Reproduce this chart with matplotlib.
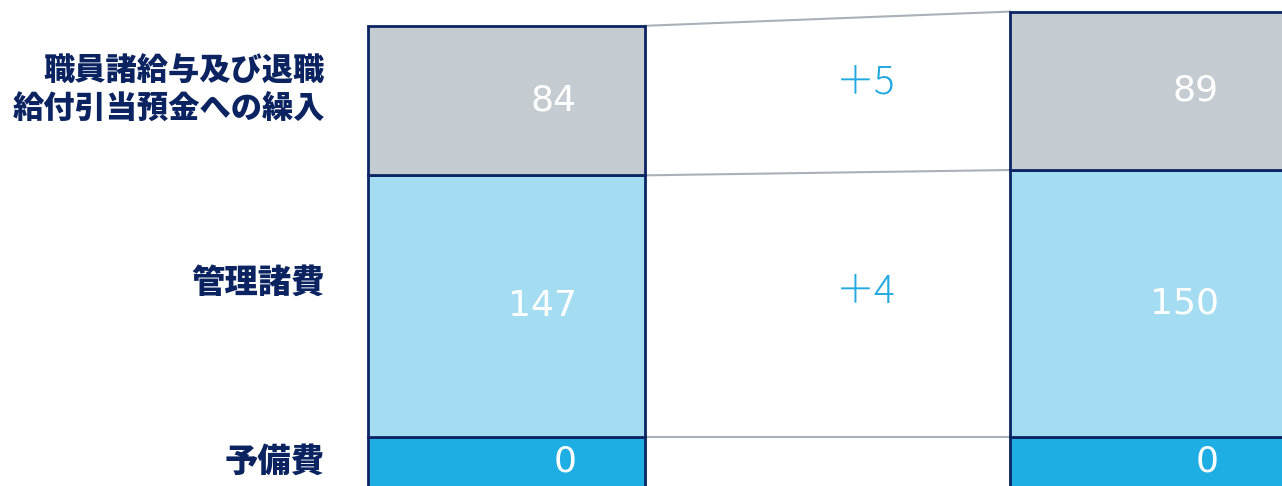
import matplotlib.pyplot as plt

plt.rcParams['font.family'] = ['Noto Sans CJK JP', 'DejaVu Sans']

# data (bottom to top)
categories = ['予備費', '管理諸費', '職員諸給与及び退職\n給付引当預金への繰入']
before = [0, 147, 84]
after = [0, 150, 89]
changes = ['', '＋4', '＋5']

colors = ['#1eaee3', '#a4ddf2', '#c5ccd1']
edge = '#0b2463'
navy = '#0b2461'
line_col = '#a9b1b8'
blue_txt = '#22a9e1'

fig = plt.figure(figsize=(12.82, 4.86), dpi=100)
ax = fig.add_axes([0, 0, 1, 1])
ax.set_xlim(-0.789, 1.208)
ax.set_ylim(-27.5, 245.5)
ax.axis('off')

w = 0.431
pad = 40  # height shown for a zero item under the baseline
ybot = ax.get_ylim()[0]

mids = {0: [], 1: []}
tops = {0: [], 1: []}
for x, vals in [(0, before), (1, after)]:
    bottom = 0
    for i, v in enumerate(vals):
        if v == 0 and bottom == 0:
            ax.bar(x, pad, bottom=-pad, width=w, color=colors[i],
                   edgecolor=edge, linewidth=2, zorder=2)
            mid = ybot / 2
        else:
            ax.bar(x, v, bottom=bottom, width=w, color=colors[i],
                   edgecolor=edge, linewidth=2, zorder=2)
            mid = bottom + v / 2
            bottom += v
        mids[x].append(mid)
        tops[x].append(bottom)
        ax.text(x + w / 2 - 0.106, mid, str(v), ha='right', va='center',
                color='white', fontsize=26, family='DejaVu Sans', zorder=3)

# connector lines between the bars
for i in range(len(categories)):
    ax.plot([w / 2, 1 - w / 2], [tops[0][i], tops[1][i]], color=line_col,
            lw=1.5, zorder=1)

# change labels
for i in range(len(categories)):
    if changes[i]:
        ax.text(0.56, (mids[0][i] + mids[1][i]) / 2 + 7, changes[i],
                ha='center', va='center', color=blue_txt, fontsize=28,
                fontweight='light')

# category labels
label_dy = [0, 17, 8]
label_size = [24, 24, 22.5]
for i, c in enumerate(categories):
    ax.annotate(c, xy=(-w / 2, mids[0][i]), xytext=(-31, label_dy[i]),
                textcoords='offset points', ha='right', va='center',
                color=navy, fontsize=label_size[i], fontweight='black',
                linespacing=1.25)

fig.savefig('out.png', dpi=100)
